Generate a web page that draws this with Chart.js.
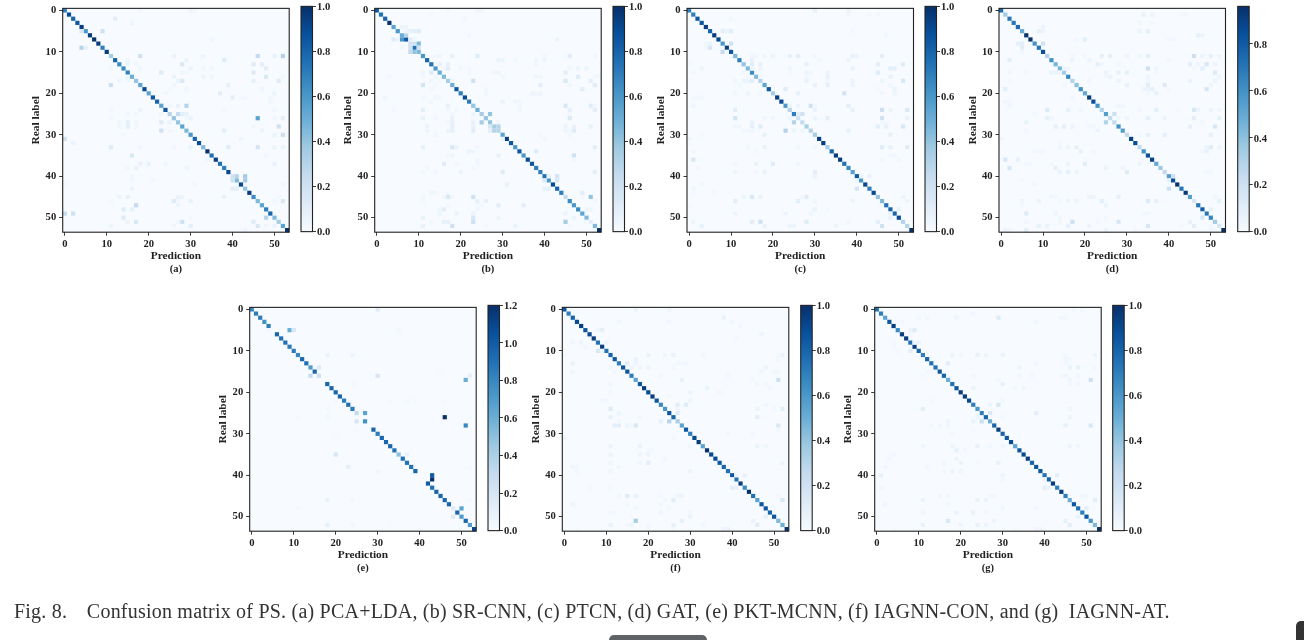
<!doctype html>
<html>
<head>
<meta charset="utf-8">
<title>Confusion matrix of PS</title>
<script src="https://cdn.jsdelivr.net/npm/chart.js@4"></script>
<style>
html, body { margin: 0; padding: 0; background: #fff; overflow: hidden; }
#page { position: relative; width: 1304px; height: 640px; filter: blur(0.45px); }
#page canvas { position: absolute; }
#caption { position: absolute; left: 14px; top: 600px; font: 20px "Liberation Serif", serif; letter-spacing: 0.217px; color: #333; white-space: pre; }
#caption span { margin-right: 4px; }
#handle { position: absolute; left: 609px; top: 635px; width: 98px; height: 8px; background: #5f6368; border-radius: 5px 5px 0 0; }
#corner { position: absolute; left: 1296px; top: 621px; width: 12px; height: 22px; background: #333; border-radius: 5px 0 0 0; }
</style>
</head>
<body>
<div id="page">
	<div id="caption"><span>Fig. 8.</span>   Confusion matrix of PS. (a) PCA+LDA, (b) SR-CNN, (c) PTCN, (d) GAT, (e) PKT-MCNN, (f) IAGNN-CON, and (g)  IAGNN-AT.</div>
	<div id="handle"></div>
	<div id="corner"></div>
</div>
<script>
const BLUES = ['#f7fbff', '#deebf7', '#c6dbef', '#9ecae1', '#6baed6', '#4292c6', '#2171b5', '#08519c', '#08306b'];
const matrixTicks = [0, 10, 20, 30, 40, 50];
const barTicks = [0, 0.2, 0.4, 0.6, 0.8, 1.0];
const barTicksD = [0, 0.2, 0.4, 0.6, 0.8];
const barTicksE = [0, 0.2, 0.4, 0.6, 0.8, 1.0, 1.2];

// diagonal values, row 0 to 53
const diagA = [.7,.9,.8,.85,.95,.6,.95,1,.95,.7,.95,.35,.8,.65,.65,.7,.5,.4,.55,.9,.55,.85,.8,.55,.85,.3,.4,.4,.55,.45,.6,.8,.9,.45,1,.75,.95,.75,.7,.9,.2,.45,.9,.4,.95,.65,.45,.55,.7,.8,.45,.35,.55,1];
const diagB = [.85,.75,.8,1,.55,.6,.5,.85,.2,.75,.45,.6,.8,.75,.6,.5,.45,.35,.5,.85,.7,.9,.7,.4,.5,.35,.4,.4,.35,.3,.55,.95,.85,.6,.85,.6,.9,.85,.7,.7,.75,.6,.9,.8,.7,.25,.65,.6,.65,.55,.45,.1,.45,1];
const diagC = [.7,.7,.85,.85,.95,.8,.95,.9,.6,.95,.85,.45,.7,.4,.45,.65,.45,.3,.55,.85,.35,.95,.9,.6,.3,.7,.2,.25,.35,.3,.35,.95,.95,.35,.8,.95,.95,.75,.65,.55,.85,.6,.9,.7,.9,.4,.45,.75,.8,.8,.9,.3,.3,1];
const diagD = [.75,.35,.7,.7,.75,.5,.95,.96,.6,.7,.85,.3,.6,.45,.45,.35,.65,.3,.4,.6,.5,.92,.85,.6,.3,.55,.25,.25,.6,.55,.25,.9,.85,.25,.6,.85,.9,.5,.35,.25,.55,.85,.95,.7,.92,.55,.15,.7,.8,.7,.65,.35,.15,.96];
const diagE = [.8,.85,.85,.75,.85,0,.95,.9,.9,.85,.85,.8,.95,.9,.7,.95,.25,0,.95,.95,.95,.95,.85,.9,.85,.3,0,.75,0,.95,.85,.95,.95,.95,.9,.5,.9,.9,.9,.95,0,0,1,.9,.95,.95,.95,.95,.15,.95,.7,.95,.7,1.1];
const diagF = [.85,.7,.8,.9,.95,.85,.9,.95,.75,.95,.75,.8,.85,.7,.85,.85,.7,.55,.85,.95,.9,.95,.85,.65,.6,.85,.8,.35,.55,.85,.7,.9,.95,.55,1,.9,.9,.85,.8,.75,.85,.75,.95,.65,1,.75,.55,.85,.85,.8,.85,.45,.5,1];
const diagG = [.75,.7,.55,.85,.95,.65,.95,.95,.75,.95,.8,.7,.8,.75,.75,.85,.8,.5,.75,.85,.95,.95,.9,.7,.6,.7,.8,.5,.8,.95,.8,.85,.9,.55,.85,.9,.95,.8,.85,.85,.75,.8,.95,.7,.95,.7,.5,.85,.75,.7,.85,.6,.45,1];

// off-diagonal cells: [row, col, value]
const offA = [[0,30,.05],[0,31,.03],[0,18,.02],[2,12,.1],[3,16,.04],[5,4,.15],[5,9,.2],[7,35,.04],[9,4,.3],[9,5,.08],[11,18,.2],[11,26,.06],[11,46,.25],[11,52,.3],[11,50,.08],[11,33,.05],[12,38,.12],[12,29,.06],[12,15,.05],[13,28,.15],[13,15,.06],[13,45,.12],[13,47,.1],[13,17,.04],[14,30,.06],[14,11,.04],[14,18,.04],[14,48,.1],[14,33,.04],[14,35,.04],[15,23,.12],[15,45,.12],[15,28,.04],[15,29,.03],[16,26,.06],[16,33,.05],[16,35,.04],[16,48,.15],[16,52,.03],[16,15,.05],[17,28,.15],[17,27,.06],[17,13,.04],[17,15,.04],[17,45,.08],[17,51,.12],[18,11,.22],[18,26,.04],[18,39,.08],[19,29,.04],[19,25,.03],[19,47,.04],[20,24,.03],[20,37,.1],[20,50,.06],[21,40,.1],[21,43,.03],[21,49,.04],[21,42,.02],[22,49,.04],[23,29,.3],[23,27,.08],[23,25,.04],[24,11,.03],[24,18,.06],[24,38,.02],[24,50,.03],[25,27,.25],[25,28,.1],[25,29,.08],[25,23,.04],[25,17,.03],[25,15,.04],[26,46,.55],[26,11,.03],[26,30,.07],[26,52,.09],[26,50,.04],[26,29,.03],[27,23,.12],[27,25,.06],[27,15,.09],[27,17,.04],[27,13,.04],[28,15,.1],[28,13,.04],[28,17,.03],[28,45,.04],[28,51,.2],[29,23,.2],[29,38,.1],[29,25,.04],[29,47,.05],[30,52,.2],[30,50,.05],[30,14,.02],[31,0,.2],[31,42,.05],[32,2,.05],[33,11,.12],[33,18,.03],[33,26,.03],[33,30,.06],[33,39,.12],[33,46,.18],[33,50,.06],[33,52,.05],[35,16,.15],[35,48,.03],[36,34,.04],[37,18,.07],[37,20,.08],[37,24,.04],[37,50,.08],[38,17,.07],[38,29,.05],[38,15,.03],[40,41,.3],[40,43,.35],[40,16,.03],[41,40,.2],[41,43,.35],[41,21,.03],[41,16,.03],[42,31,.03],[42,52,.03],[42,0,.02],[43,16,.06],[43,40,.1],[43,41,.1],[45,13,.05],[45,15,.08],[45,27,.07],[45,28,.05],[45,38,.07],[45,51,.03],[46,11,.03],[46,26,.12],[46,30,.07],[46,50,.04],[46,52,.15],[46,27,.03],[47,17,.25],[47,27,.05],[48,14,.12],[48,16,.08],[49,0,.25],[49,2,.2],[50,14,.12],[50,48,.3],[50,30,.02],[51,15,.06],[51,17,.15],[51,28,.2],[51,27,.04],[51,45,.12],[52,11,.05],[52,26,.04],[52,30,.1],[52,46,.15],[52,48,.04],[52,50,.05],[53,43,.04]];
const offB = [[6,7,.3],[7,6,.6],[8,9,.2],[8,10,.45],[9,8,.2],[9,10,.2],[10,8,.25],[10,9,.4],[5,7,.05],[5,8,.08],[5,9,.1],[5,10,.12],[4,6,.05],[4,7,.05],[7,4,.12],[7,5,.05],[7,8,.1],[7,9,.04],[9,6,.04],[0,24,.04],[0,25,.04],[0,17,.02],[1,13,.02],[2,21,.03],[6,22,.03],[7,43,.05],[11,14,.03],[11,15,.04],[11,18,.08],[11,24,.12],[11,46,.12],[11,52,.03],[11,40,.03],[12,29,.06],[12,30,.05],[12,38,.04],[12,33,.03],[12,40,.05],[13,15,.08],[13,17,.08],[13,38,.04],[14,16,.04],[14,17,.1],[14,20,.03],[14,22,.03],[14,48,.06],[14,50,.06],[14,46,.03],[15,11,.05],[15,13,.12],[15,28,.04],[15,29,.05],[15,45,.1],[15,22,.02],[16,3,.03],[16,11,.03],[16,14,.04],[16,48,.12],[16,52,.03],[16,53,.03],[16,38,.04],[16,39,.04],[16,30,.03],[17,13,.04],[17,15,.03],[17,23,.2],[17,45,.15],[17,51,.1],[17,18,.05],[18,11,.18],[18,39,.1],[18,52,.12],[18,46,.04],[18,14,.03],[19,49,.1],[19,26,.03],[19,13,.03],[20,26,.04],[20,37,.05],[20,38,.04],[20,39,.05],[21,2,.05],[21,14,.04],[21,11,.03],[21,15,.03],[22,30,.06],[22,34,.03],[22,33,.04],[22,13,.03],[23,17,.08],[23,45,.15],[23,51,.12],[23,52,.04],[23,34,.03],[24,4,.03],[24,11,.1],[24,19,.03],[24,17,.03],[24,46,.08],[24,52,.1],[24,34,.03],[25,27,.4],[25,23,.05],[25,18,.03],[25,46,.03],[26,11,.08],[26,14,.03],[26,18,.07],[26,23,.03],[26,46,.15],[27,25,.35],[27,18,.08],[27,17,.03],[27,23,.07],[27,29,.04],[28,29,.3],[28,12,.06],[28,23,.07],[28,18,.09],[28,45,.06],[28,47,.07],[28,51,.08],[28,27,.15],[29,27,.1],[29,28,.3],[29,12,.05],[29,18,.08],[29,17,.05],[29,23,.1],[29,45,.05],[29,47,.12],[29,46,.04],[30,14,.04],[30,46,.03],[30,39,.03],[31,30,.05],[31,40,.03],[33,11,.08],[33,18,.15],[33,19,.06],[33,24,.04],[33,52,.1],[34,22,.06],[34,23,.05],[34,38,.12],[35,18,.05],[35,29,.08],[35,47,.2],[35,17,.03],[36,24,.04],[36,47,.03],[37,16,.12],[37,24,.04],[37,19,.03],[38,12,.03],[38,23,.03],[39,20,.06],[39,11,.03],[39,14,.03],[39,30,.12],[39,52,.1],[40,41,.08],[40,43,.18],[41,40,.15],[41,43,.15],[42,31,.07],[43,40,.08],[43,41,.08],[44,13,.05],[44,49,.1],[44,17,.03],[44,14,.03],[45,16,.04],[45,17,.15],[45,23,.2],[45,51,.4],[45,18,.03],[45,11,.03],[45,49,.03],[46,24,.08],[46,26,.08],[46,52,.03],[46,11,.03],[47,29,.1],[47,35,.1],[47,17,.03],[47,25,.03],[48,16,.1],[48,15,.04],[48,24,.04],[48,50,.05],[48,51,.05],[49,15,.05],[49,19,.06],[49,23,.06],[49,45,.05],[50,11,.08],[50,23,.15],[50,29,.05],[50,47,.05],[51,16,.08],[51,17,.08],[51,23,.2],[51,45,.35],[51,13,.03],[51,50,.02],[52,11,.07],[52,18,.2],[52,33,.06],[52,46,.03],[52,26,.03]];
const offC = [[0,30,.08],[0,38,.06],[1,38,.04],[1,45,.03],[1,43,.03],[2,10,.03],[5,8,.1],[5,9,.06],[5,10,.1],[5,39,.03],[6,47,.04],[8,4,.04],[8,5,.06],[8,10,.2],[9,5,.15],[9,4,.03],[10,8,.25],[10,9,.03],[11,15,.03],[11,16,.03],[11,18,.04],[11,20,.06],[11,24,.08],[11,26,.1],[11,30,.04],[11,39,.08],[11,40,.05],[11,46,.1],[12,15,.07],[12,38,.05],[12,31,.03],[13,15,.1],[13,17,.08],[13,28,.08],[13,45,.1],[13,51,.12],[13,0,.02],[14,3,.05],[14,15,.05],[14,17,.05],[14,39,.08],[14,48,.1],[14,49,.1],[14,24,.04],[15,1,.03],[15,13,.03],[15,24,.03],[15,28,.05],[15,29,.03],[15,33,.05],[15,45,.12],[16,17,.03],[16,33,.08],[16,48,.08],[16,14,.03],[16,28,.03],[17,11,.04],[17,13,.05],[17,14,.05],[17,15,.1],[17,28,.07],[17,33,.04],[17,39,.06],[17,46,.05],[17,51,.15],[18,30,.07],[18,33,.09],[18,39,.06],[18,48,.04],[18,12,.03],[19,23,.12],[19,49,.06],[19,45,.03],[20,11,.04],[20,14,.05],[20,26,.08],[20,37,.18],[20,46,.04],[20,17,.04],[20,49,.05],[21,1,.03],[21,2,.03],[21,3,.03],[23,1,.04],[23,24,.06],[23,26,.05],[23,29,.2],[23,38,.1],[23,30,.03],[24,11,.1],[24,30,.06],[24,39,.08],[24,46,.22],[24,52,.15],[24,48,.05],[25,26,.1],[25,27,.2],[26,11,.18],[26,18,.04],[26,20,.04],[26,30,.05],[26,33,.1],[26,46,.2],[26,52,.07],[26,24,.04],[27,25,.3],[27,15,.07],[27,46,.03],[27,47,.03],[28,11,.04],[28,12,.04],[28,15,.09],[28,17,.12],[28,45,.1],[28,47,.08],[28,51,.15],[29,23,.3],[29,15,.03],[29,14,.03],[29,25,.05],[29,27,.04],[29,38,.08],[29,13,.03],[30,18,.08],[30,3,.03],[30,48,.08],[31,0,.05],[33,18,.07],[33,14,.03],[33,26,.03],[33,46,.12],[33,48,.08],[33,52,.12],[33,30,.03],[34,1,.03],[34,16,.02],[35,49,.04],[35,48,.03],[36,1,.15],[36,46,.03],[36,50,.03],[37,16,.07],[37,20,.12],[37,11,.03],[37,26,.04],[38,2,.03],[39,11,.04],[39,18,.08],[39,30,.1],[39,16,.03],[40,30,.06],[40,43,.07],[40,41,.06],[41,40,.05],[43,40,.18],[43,1,.04],[44,1,.03],[44,6,.03],[42,3,.03],[45,13,.05],[45,15,.15],[45,17,.07],[45,28,.12],[45,51,.05],[45,27,.03],[46,11,.1],[46,26,.1],[46,30,.04],[46,39,.05],[46,52,.05],[47,0,.02],[48,30,.06],[48,33,.03],[48,50,.08],[49,11,.05],[49,23,.05],[49,29,.04],[49,48,.06],[50,48,.08],[51,1,.05],[51,15,.1],[51,17,.2],[51,28,.12],[51,45,.1],[51,38,.04],[52,3,.08],[52,18,.07],[52,24,.05],[52,46,.2],[52,35,.05],[52,25,.05]];
const offD = [[1,34,.07],[1,36,.05],[1,43,.03],[1,44,.03],[3,33,.03],[3,36,.03],[4,10,.05],[5,9,.08],[5,10,.05],[5,33,.06],[5,35,.08],[6,47,.08],[6,48,.05],[7,18,.03],[7,20,.1],[7,40,.03],[7,41,.03],[8,4,.08],[8,5,.1],[8,10,.18],[9,5,.1],[10,5,.04],[11,20,.03],[11,24,.08],[11,26,.08],[11,30,.05],[11,33,.04],[11,35,.1],[11,46,.2],[11,50,.08],[11,52,.05],[11,48,.05],[11,17,.03],[12,2,.1],[12,17,.05],[12,21,.05],[12,40,.03],[13,23,.08],[13,24,.04],[13,45,.1],[13,49,.15],[13,47,.05],[13,51,.05],[13,28,.03],[14,15,.05],[14,35,.2],[14,37,.04],[14,48,.1],[14,16,.04],[14,46,.03],[15,12,.06],[15,13,.06],[15,14,.05],[15,25,.06],[15,28,.07],[15,30,.08],[15,51,.12],[15,6,.03],[15,2,.03],[15,37,.03],[16,26,.06],[16,25,.03],[16,52,.05],[16,35,.04],[17,2,.03],[17,21,.04],[17,28,.06],[17,45,.06],[17,51,.05],[17,35,.04],[18,30,.07],[18,35,.1],[18,39,.12],[18,15,.03],[18,50,.05],[19,1,.1],[19,34,.05],[19,36,.08],[19,49,.15],[19,35,.05],[19,40,.03],[20,37,.07],[20,35,.03],[21,17,.04],[22,1,.04],[22,2,.03],[23,2,.04],[23,28,.04],[23,29,.04],[24,11,.12],[24,16,.07],[24,19,.04],[24,37,.1],[24,33,.03],[24,46,.15],[24,50,.05],[24,47,.05],[24,52,.04],[24,42,.02],[25,8,.03],[25,27,.2],[26,11,.08],[26,12,.03],[26,28,.04],[26,30,.05],[26,35,.08],[26,39,.06],[26,46,.1],[26,52,.08],[27,6,.07],[27,25,.3],[27,48,.03],[28,13,.08],[28,15,.09],[28,17,.05],[28,21,.03],[28,22,.03],[28,45,.08],[28,51,.15],[29,23,.05],[29,6,.03],[30,35,.08],[30,39,.08],[30,50,.08],[30,33,.03],[31,0,.05],[32,14,.03],[33,14,.04],[33,16,.05],[33,18,.08],[33,49,.05],[33,50,.12],[33,52,.05],[34,19,.07],[34,8,.03],[34,9,.03],[34,10,.03],[34,22,.03],[34,48,.03],[34,49,.07],[36,1,.15],[36,4,.07],[36,34,.03],[37,6,.03],[37,7,.03],[37,16,.06],[37,20,.1],[37,12,.03],[37,33,.05],[37,35,.03],[38,2,.15],[38,13,.08],[38,25,.06],[38,29,.05],[39,14,.06],[39,16,.08],[39,18,.05],[39,30,.12],[39,50,.03],[39,49,.03],[40,41,.2],[41,40,.08],[41,5,.02],[42,8,.03],[43,40,.2],[45,12,.04],[45,13,.03],[45,22,.05],[45,21,.05],[45,28,.08],[45,44,.03],[45,51,.04],[46,5,.05],[46,9,.05],[46,16,.05],[46,18,.05],[46,24,.1],[46,35,.12],[46,37,.08],[46,52,.08],[46,14,.03],[47,25,.06],[47,5,.03],[48,50,.08],[49,6,.12],[49,13,.05],[49,34,.03],[49,35,.03],[49,48,.05],[50,48,.15],[50,14,.04],[50,25,.03],[51,6,.03],[51,17,.2],[51,28,.15],[51,45,.07],[51,23,.03],[51,14,.03],[52,9,.07],[52,11,.06],[52,16,.08],[52,21,.05],[52,35,.15],[52,46,.1],[52,50,.03],[52,43,.02],[53,1,.05],[53,2,.04],[53,6,.1],[53,25,.06],[53,32,.03],[53,50,.03],[53,51,.03]];
const offE = [[14,16,.15],[16,14,.3],[16,30,.2],[16,52,.1],[17,51,.6],[25,27,.65],[27,25,.2],[26,46,1.2],[28,51,.8],[5,9,.6],[5,10,.2],[0,30,.15],[40,43,1.0],[41,43,1.2],[48,50,.65],[50,48,.15],[35,20,.2],[35,37,.08],[38,23,.1],[39,30,.05],[46,18,.08],[46,24,.03],[48,11,.03],[52,18,.1],[52,24,.04],[52,33,.02],[11,18,.08],[11,24,.06],[18,24,.03],[5,4,.03],[5,35,.04],[14,11,.02],[15,45,.02],[22,20,.03],[22,33,.02],[22,37,.03],[22,39,.03],[22,46,.02],[24,18,.03],[26,18,.04],[26,11,.02],[26,52,.02],[29,25,.02],[30,20,.02],[33,11,.01],[38,52,.02],[46,52,.02]];
const offF = [[0,17,.06],[0,25,.05],[2,38,.07],[3,13,.03],[3,40,.04],[3,25,.03],[4,42,.03],[5,8,.04],[5,9,.1],[6,47,.05],[7,41,.02],[8,2,.04],[8,4,.05],[8,10,.06],[9,5,.03],[10,8,.15],[10,9,.05],[11,0,.03],[11,20,.06],[11,24,.04],[11,26,.07],[11,33,.03],[11,52,.07],[11,51,.02],[12,17,.06],[12,51,.03],[13,2,.07],[13,15,.1],[13,17,.05],[13,27,.03],[13,28,.03],[13,29,.04],[14,16,.05],[14,18,.04],[14,11,.04],[14,20,.06],[14,48,.05],[14,26,.03],[15,2,.04],[15,12,.03],[15,47,.04],[15,50,.03],[15,51,.03],[16,23,.03],[16,39,.03],[17,28,.08],[17,51,.2],[17,45,.02],[18,11,.04],[18,46,.04],[18,48,.03],[19,34,.06],[19,49,.03],[20,37,.03],[20,30,.05],[20,11,.02],[21,25,.02],[22,30,.05],[22,9,.03],[22,10,.03],[23,27,.1],[23,29,.12],[23,48,.04],[24,11,.12],[24,27,.04],[24,46,.06],[24,52,.1],[24,50,.03],[25,13,.05],[25,27,.12],[26,11,.07],[26,18,.03],[26,46,.1],[27,23,.08],[27,25,.3],[27,13,.03],[28,12,.1],[28,13,.1],[28,15,.05],[28,17,.15],[28,51,.15],[28,16,.02],[29,51,.03],[30,39,.03],[30,45,.03],[31,0,.05],[31,26,.03],[33,11,.05],[33,18,.06],[33,46,.06],[33,30,.03],[33,48,.04],[34,20,.03],[34,21,.03],[35,11,.05],[35,18,.05],[35,20,.06],[36,24,.03],[37,11,.03],[37,18,.04],[37,20,.1],[37,52,.05],[38,3,.03],[38,13,.03],[38,2,.04],[39,3,.03],[39,11,.03],[39,30,.05],[40,41,.05],[40,43,.08],[41,40,.03],[43,40,.1],[43,41,.08],[43,11,.02],[43,6,.02],[45,13,.03],[45,15,.12],[45,17,.08],[45,23,.02],[45,27,.05],[45,28,.05],[45,51,.03],[46,26,.1],[46,52,.15],[46,24,.03],[47,2,.05],[47,15,.03],[47,23,.03],[48,17,.03],[48,25,.03],[48,50,.03],[49,11,.03],[49,12,.03],[49,23,.04],[49,30,.03],[50,30,.06],[50,48,.08],[50,16,.02],[51,17,.35],[51,28,.08],[51,45,.06],[52,11,.07],[52,15,.03],[52,16,.05],[52,20,.03],[52,26,.08],[52,46,.12],[52,33,.03],[53,38,.05],[53,39,.05],[53,3,.02],[53,20,.03],[53,26,.03],[53,30,.02]];
const offG = [[0,47,.03],[0,49,.03],[1,23,.03],[2,29,.12],[2,19,.05],[2,12,.03],[2,10,.03],[2,44,.04],[2,45,.03],[3,6,.03],[3,38,.04],[5,8,.06],[5,9,.12],[6,8,.03],[8,4,.03],[8,10,.07],[8,9,.05],[9,4,.02],[10,8,.1],[10,5,.03],[11,18,.05],[11,20,.03],[11,24,.08],[11,26,.05],[11,30,.06],[11,52,.05],[11,45,.03],[12,45,.04],[12,46,.03],[13,17,.1],[13,38,.03],[13,45,.03],[14,34,.05],[14,46,.06],[14,48,.08],[14,52,.03],[15,12,.03],[15,13,.03],[16,11,.02],[16,34,.03],[16,37,.03],[16,44,.03],[16,45,.05],[16,48,.03],[16,23,.03],[17,51,.2],[17,46,.05],[17,29,.03],[18,30,.07],[18,46,.03],[18,48,.03],[19,23,.06],[19,33,.03],[19,35,.04],[22,30,.04],[22,13,.02],[23,27,.05],[23,29,.15],[24,11,.1],[24,46,.04],[25,38,.1],[25,24,.03],[25,27,.15],[26,24,.06],[26,30,.03],[26,46,.05],[27,23,.07],[27,25,.22],[27,17,.04],[28,13,.03],[28,15,.03],[28,17,.04],[28,45,.08],[28,51,.15],[29,23,.02],[30,18,.02],[33,11,.04],[33,18,.05],[33,24,.08],[33,27,.03],[33,30,.04],[33,46,.05],[33,48,.04],[34,19,.08],[34,21,.03],[35,4,.03],[36,3,.03],[36,19,.05],[37,16,.04],[37,20,.06],[37,24,.03],[37,29,.07],[38,2,.03],[38,12,.03],[39,16,.03],[39,18,.05],[39,20,.04],[40,1,.08],[40,30,.05],[40,43,.1],[41,40,.05],[41,30,.03],[43,1,.04],[43,40,.1],[43,41,.06],[45,15,.03],[45,17,.04],[45,27,.03],[45,28,.03],[45,49,.04],[45,50,.03],[46,11,.06],[46,24,.07],[46,26,.06],[46,52,.1],[47,2,.04],[47,17,.03],[48,30,.04],[48,38,.03],[48,50,.1],[49,11,.04],[49,19,.06],[49,23,.07],[49,26,.03],[50,48,.06],[51,17,.15],[51,28,.05],[51,45,.08],[52,11,.08],[52,20,.05],[52,24,.08],[52,26,.05],[52,46,.1],[53,38,.04],[53,39,.04],[53,33,.02],[53,4,.02]];

const TICK_FONT = {family: 'Liberation Serif', size: 10.6, weight: 'bold'};
const LABEL_FONT = {family: 'Liberation Serif', size: 11.4, weight: 'bold'};
const INK = '#222';
const PLOT_SIZE = 226.5;

function blues(t) {
	const p = Math.max(0, Math.min(1, t)) * (BLUES.length - 1);
	const i = Math.min(Math.floor(p), BLUES.length - 2);
	const a = parseInt(BLUES[i].slice(1), 16), b = parseInt(BLUES[i + 1].slice(1), 16);
	const mix = s => Math.round(((a >> s) & 255) * (1 - p + i) + ((b >> s) & 255) * (p - i));
	return `rgb(${mix(16)},${mix(8)},${mix(0)})`;
}

// light fill behind the cells, frame on top of them
const matrixBack = {
	id: 'matrixBack',
	beforeDatasetsDraw(chart) {
		const a = chart.chartArea;
		chart.ctx.fillStyle = BLUES[0];
		chart.ctx.fillRect(a.left, a.top, a.width, a.height);
	}
};
const frame = {
	id: 'frame',
	afterDraw(chart) {
		const a = chart.chartArea, ctx = chart.ctx;
		ctx.strokeStyle = INK;
		ctx.lineWidth = 1.1;
		ctx.strokeRect(a.left, a.top, a.width, a.height);
	}
};
// colorbar labels sit a little lower than the middle baseline gives
const barLabelShift = {
	id: 'barLabelShift',
	beforeDraw(chart) {
		chart.scales.y.getLabelItems().forEach(item => { item.options.translation[1] += 1; });
	}
};

function addCanvas(x, y, w, h) {
	const c = document.createElement('canvas');
	c.style.left = x + 'px';
	c.style.top = y + 'px';
	c.style.width = w + 'px';
	c.style.height = h + 'px';
	c.width = w;
	c.height = h;
	document.getElementById('page').appendChild(c);
	return c;
}

function addMatrix(left, top, letter, diag, off, vmax) {
	const cx = Math.floor(left) - 33, cy = Math.floor(top) - 6;
	const W = 268, H = 280;
	const axisH = 30.75, titleH = 12.6;
	const points = [];
	diag.forEach((v, i) => { if (v > 0) points.push({x: i, y: i, v: v}); });
	off.forEach(o => points.push({x: o[1], y: o[0], v: o[2]}));
	const setTicks = s => { s.ticks = matrixTicks.map(v => ({value: v})); };
	new Chart(addCanvas(cx, cy, W, H), {
		type: 'scatter',
		data: {datasets: [{
			data: points,
			pointStyle: 'rect',
			pointBorderWidth: 0,
			pointBackgroundColor: points.map(p => blues(p.v / vmax)),
			pointRadius: c => {
				const s = c.chart.scales.x;
				return Math.abs(s.getPixelForValue(1) - s.getPixelForValue(0)) * Math.SQRT1_2;
			}
		}]},
		options: {
			responsive: false,
			animation: false,
			events: [],
			clip: false,
			layout: {padding: {
				left: left - 33 - cx,
				top: top - cy,
				right: W - (left - cx) - PLOT_SIZE,
				bottom: H - (top - cy) - PLOT_SIZE - axisH - titleH
			}},
			plugins: {
				legend: {display: false},
				tooltip: {enabled: false},
				title: {display: true, position: 'bottom', fullSize: false, text: letter, color: INK, padding: 0,
					font: {family: 'Liberation Serif', size: 10.5, weight: 'bold', lineHeight: 1.2}}
			},
			scales: {
				x: {
					type: 'linear', min: -0.5, max: 53.5,
					afterBuildTicks: setTicks,
					afterFit: s => { s.height = axisH; },
					border: {display: false},
					grid: {drawOnChartArea: false, tickLength: 3.5, tickColor: INK, tickWidth: 0.9},
					ticks: {autoSkip: false, maxRotation: 0, color: INK, font: TICK_FONT, padding: 2, callback: v => v},
					title: {display: true, text: 'Prediction', color: INK, font: LABEL_FONT, padding: 0}
				},
				y: {
					type: 'linear', reverse: true, min: -0.5, max: 53.5,
					afterBuildTicks: setTicks,
					afterFit: s => { s.width = 33; },
					border: {display: false},
					grid: {drawOnChartArea: false, tickLength: 3.5, tickColor: INK, tickWidth: 0.9},
					ticks: {autoSkip: false, color: INK, font: TICK_FONT, padding: 3, callback: v => v},
					title: {display: true, text: 'Real label', color: INK, font: LABEL_FONT, padding: 0}
				}
			}
		},
		plugins: [matrixBack, frame]
	});
}

function addColorbar(left, top, ticks, vmax) {
	const cx = Math.floor(left) - 2, cy = Math.floor(top) - 6;
	const W = 50, H = 240;
	const barW = 11.5, axisW = 30;
	new Chart(addCanvas(cx, cy, W, H), {
		type: 'bar',
		data: {labels: [''], datasets: [{
			data: [[0, vmax]],
			barPercentage: 1,
			categoryPercentage: 1,
			borderWidth: 0,
			backgroundColor: c => {
				const a = c.chart.chartArea;
				if (!a) return BLUES[0];
				const g = c.chart.ctx.createLinearGradient(0, a.bottom, 0, a.top);
				BLUES.forEach((b, i) => g.addColorStop(i / (BLUES.length - 1), b));
				return g;
			}
		}]},
		options: {
			responsive: false,
			animation: false,
			events: [],
			layout: {padding: {
				left: left - cx,
				top: top - cy,
				right: W - (left - cx) - barW - axisW,
				bottom: H - (top - cy) - PLOT_SIZE
			}},
			plugins: {legend: {display: false}, tooltip: {enabled: false}},
			scales: {
				x: {display: false},
				y: {
					position: 'right', min: 0, max: vmax,
					afterBuildTicks: s => { s.ticks = ticks.map(v => ({value: v})); },
					afterFit: s => { s.width = axisW; },
					border: {display: false},
					grid: {drawOnChartArea: false, tickLength: 3.5, tickColor: INK, tickWidth: 0.9},
					ticks: {color: INK, font: TICK_FONT, padding: 1, callback: v => v.toFixed(1)}
				}
			}
		},
		plugins: [frame, barLabelShift]
	});
}

addMatrix(62.7, 5.7, '(a)', diagA, offA, 1);
addMatrix(374.7, 5.7, '(b)', diagB, offB, 1);
addMatrix(687, 5.7, '(c)', diagC, offC, 1);
addMatrix(999, 5.7, '(d)', diagD, offD, 0.96);
addMatrix(249.7, 304.7, '(e)', diagE, offE, 1.2);
addMatrix(562.3, 304.7, '(f)', diagF, offF, 1);
addMatrix(874.7, 304.7, '(g)', diagG, offG, 1);

addColorbar(301, 5.7, barTicks, 1);
addColorbar(613, 5.7, barTicks, 1);
addColorbar(925, 5.7, barTicks, 1);
addColorbar(1237.7, 5.7, barTicksD, 0.96);
addColorbar(488, 304.7, barTicksE, 1.2);
addColorbar(800.7, 304.7, barTicks, 1);
addColorbar(1112.7, 304.7, barTicks, 1);
</script>
</body>
</html>
